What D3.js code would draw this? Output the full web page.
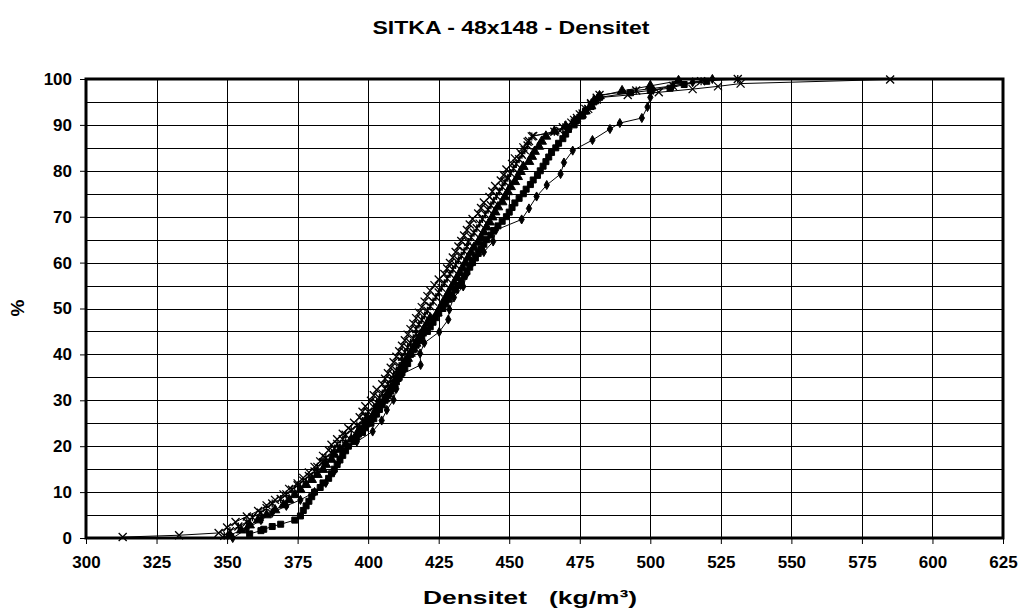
<!DOCTYPE html>
<html>
<head>
<script src="https://cdn.jsdelivr.net/npm/d3@7"></script>
<style>
  body { margin: 0; background: #fff; }
  text { font-family: "Liberation Sans", Arial, sans-serif; font-weight: bold; fill: #000; }
</style>
</head>
<body>
<svg id="chart" width="1024" height="615"></svg>
<script>
// tick values
var xTicks = [300, 325, 350, 375, 400, 425, 450, 475, 500, 525, 550, 575, 600, 625];
var yTicks = [0, 10, 20, 30, 40, 50, 60, 70, 80, 90, 100];
var yGrid = [0, 5, 10, 15, 20, 25, 30, 35, 40, 45, 50, 55, 60, 65, 70, 75, 80, 85, 90, 95, 100];

// density (kg/m3), cumulative %
var sCross = [[313,0.2],[333,0.6],[347,1.1],[350,2.3],[353,3.5],[357,4.7],[361,5.9],[364,7.1],[367,8.3],[370,9.5],[372,10.7],[375,11.9],[377,13.1],[379,14.3],[381,15.5],[383,16.7],[384,17.9],[386,19.1],[387,20.3],[389,21.5],[391,22.7],[393,23.9],[395,25.1],[397,26.3],[398,27.5],[399,28.7],[401,29.9],[402,31.1],[403,32.3],[405,33.5],[406,34.7],[407,35.9],[408,37.1],[409,38.3],[410,39.5],[411,40.7],[412,41.9],[413,43.1],[414,44.3],[415,45.5],[416,46.7],[417,47.9],[418,49.1],[419,50.3],[420,51.5],[421,52.7],[422,53.9],[423.5,55.1],[425,56.3],[427,57.5],[428,58.7],[429,59.9],[430,61.1],[431,62.3],[432,63.5],[433,64.7],[434,65.9],[435,67.1],[436,68.3],[437,69.5],[439,70.7],[440,71.9],[441,73.1],[443,74.3],[444,75.5],[445,76.7],[447,77.9],[448,79.1],[449,80.3],[451,81.5],[452,82.7],[454,83.9],[455,85.1],[456.5,86.3],[458.5,87.6],[468,88.7],[471,89.9],[473,91.1],[475,92.3],[477,93.5],[479,94.7],[481,95.9],[492,96.5],[503,97.1],[515,97.8],[524,98.4],[532,99.0],[585,99.9]];

var sStar = [[349,0.5],[351,1.5],[354,2.5],[357,3.5],[359,4.5],[362,5.5],[364,6.5],[366,7.5],[369,8.5],[371,9.5],[373,10.5],[375,11.5],[377,12.5],[379,13.5],[381,14.5],[382,15.5],[384,16.5],[385,17.5],[387,18.5],[388,19.5],[389,20.5],[391,21.5],[392,22.5],[394,23.5],[396,24.5],[398,25.5],[399,26.5],[400,27.5],[402,28.5],[403,29.5],[404,30.5],[405,31.5],[406,32.5],[407,33.5],[408,34.5],[409,35.5],[410,36.5],[411,37.5],[412,38.5],[412,39.5],[413,40.5],[414,41.5],[415,42.5],[416,43.5],[417,44.5],[417,45.5],[418,46.5],[419,47.5],[420,48.5],[421,49.5],[422,50.5],[423,51.5],[424,52.5],[425,53.5],[426,54.5],[427,55.5],[428,56.5],[429,57.5],[430,58.5],[431,59.5],[432,60.5],[433,61.5],[434,62.5],[435,63.5],[435.5,64.5],[436.5,65.5],[437.5,66.5],[438.5,67.5],[439.5,68.5],[440.5,69.5],[441.5,70.5],[442.5,71.5],[443.5,72.5],[444.5,73.5],[445.5,74.5],[446.5,75.5],[447.5,76.5],[448.5,77.5],[449.5,78.5],[450.5,79.5],[451.5,80.5],[452.5,81.5],[453.5,82.5],[454.5,83.5],[455.5,84.5],[456.5,85.5],[457,86.5],[458,87.5],[466,88.5],[469,89.5],[472,90.5],[474,91.5],[476,92.5],[478,93.5],[479,94.5],[481,95.5],[482,96.5],[495,97.5],[508,98.5],[518,99.5],[531,100]];

var sTri = [[351,0.6],[355,1.7],[358,2.8],[361,3.9],[364,5.0],[367,6.1],[370,7.2],[372,8.3],[374,9.4],[376,10.5],[378,11.6],[380,12.7],[382,13.8],[384,14.9],[385,16.0],[387,17.1],[388,18.2],[390,19.3],[392,20.4],[394,21.5],[396,22.6],[397,23.7],[399,24.8],[400,25.9],[402,27.0],[403,28.1],[404,29.2],[406,30.3],[407,31.4],[408,32.5],[409,33.6],[410,34.7],[411,35.8],[412,36.9],[413,38.0],[414,39.1],[415,40.2],[416,41.3],[417,42.4],[418,43.5],[419,44.6],[420,45.7],[421,46.8],[422,47.9],[424.5,49.0],[425.5,50.1],[426.5,51.2],[427.5,52.3],[428.5,53.4],[429.5,54.5],[430.5,55.6],[431.5,56.7],[432.5,57.8],[433.5,58.9],[434.5,60.0],[435.5,61.1],[436.5,62.2],[437.5,63.3],[439,64.4],[440,65.5],[441,66.6],[442,67.7],[443,68.8],[444,69.9],[445,71.0],[446,72.1],[447.5,73.2],[448.5,74.3],[449.5,75.4],[450.5,76.5],[452,77.6],[453,78.7],[454,79.8],[455,80.9],[457,82.0],[458,83.1],[459,84.2],[460.5,85.3],[461.5,86.4],[463,87.5],[466,88.6],[470,89.7],[473,90.8],[475,91.9],[477,93.0],[479,94.1],[480,95.2],[482,96.3],[490,97.4],[500,98.5],[510,99.6]];

var sSquare = [[358,0.9],[362,1.6],[363,1.9],[366,2.5],[369,3.0],[374,3.9],[376,4.8],[377,6.0],[378,7.0],[379,8.0],[380,9.0],[381,10.0],[383,11.0],[384,12.0],[386,13.0],[387,14.0],[388,15.0],[389,16.0],[390,17.0],[391,18.0],[392,19.0],[393,20.0],[395,21.0],[396,22.0],[398,23.0],[399,24.0],[401,25.0],[402,26.0],[403,27.0],[404,28.0],[405,29.0],[406,30.0],[407,31.0],[408,32.0],[409,33.0],[410,34.0],[411,35.0],[412,36.0],[413,37.0],[414,38.0],[414,39.0],[415,40.0],[416,41.0],[417,42.0],[418,43.0],[419,44.0],[421,45.0],[422,46.0],[423,47.0],[424,48.0],[425,49.0],[426.5,50.0],[427.5,51.0],[428.5,52.0],[429.5,53.0],[431,54.0],[432,55.0],[433,56.0],[434,57.0],[435,58.0],[436,59.0],[437,60.0],[438,61.0],[439,62.0],[440,63.0],[441,64.0],[442,65.0],[443.5,66.0],[444.5,67.0],[446,68.0],[447.5,69.0],[449,70.0],[450,71.0],[451,72.0],[452,73.0],[453.5,74.0],[455,75.0],[456,76.0],[457.5,77.0],[458.5,78.0],[460,79.0],[461,80.0],[462,81.0],[463,82.0],[464,83.0],[465,84.0],[466.5,85.0],[467.5,86.0],[469,87.0],[470,88.0],[471,89.0],[473,90.0],[474,91.0],[476,92.0],[477,93.0],[479,94.0],[480,95.0],[482,96.0],[493,97.0],[500,97.5],[507,98.0],[512,98.8],[520,99.5]];

var sDiamond = [[352,0],[357,2.0],[362,3.9],[366,5.5],[371,7.0],[376,8.3],[381,10.0],[385,12.0],[388,14.5],[390,17.0],[391,18.8],[396,21.0],[401.6,23.2],[404.8,25.6],[406.6,27.9],[409,30.1],[410,32.5],[411.3,35.5],[418.6,37.7],[418.4,40.2],[419.9,42.5],[425.2,44.9],[428.4,47.6],[428.8,49.8],[430.4,52.4],[433.7,54.8],[435.1,57.7],[437,60.0],[441,62.3],[444.3,64.6],[445.3,67.1],[454.4,69.4],[457,71.8],[459.7,74.4],[463.3,76.9],[468.2,79.3],[469.4,81.8],[472.5,84.4],[479.5,86.7],[485.7,89.1],[489.2,90.4],[497,91.5],[499,93.9],[500,96.0],[501,97.6],[508,98.5],[515,99.3],[522,100]];

var mLeft = 86, mRight = 1003, mTop = 79, mBottom = 538;

var x = d3.scaleLinear().domain([300, 625]).range([mLeft, mRight]);
var y = d3.scaleLinear().domain([0, 100]).range([mBottom, mTop]);

var svg = d3.select("#chart");

svg.append("rect").attr("width", 1024).attr("height", 615).attr("fill", "#fff");

// gridlines
svg.append("g").selectAll("line").data(yGrid).enter().append("line")
  .attr("x1", mLeft).attr("x2", mRight)
  .attr("y1", d => Math.round(y(d)) + 0.5).attr("y2", d => Math.round(y(d)) + 0.5)
  .attr("stroke", "#000").attr("stroke-width", 1);

svg.append("g").selectAll("line").data(xTicks).enter().append("line")
  .attr("x1", d => Math.round(x(d)) + 0.5).attr("x2", d => Math.round(x(d)) + 0.5)
  .attr("y1", mTop).attr("y2", mBottom)
  .attr("stroke", "#000").attr("stroke-width", 1);

// axes
var xAxis = svg.append("g").attr("transform", `translate(0,${mBottom})`)
  .call(d3.axisBottom(x).tickValues(xTicks).tickSize(6).tickPadding(12).tickFormat(d3.format("d")));
var yAxis = svg.append("g").attr("transform", `translate(${mLeft},0)`)
  .call(d3.axisLeft(y).tickValues(yTicks).tickSize(6).tickPadding(8).tickFormat(d3.format("d")));
[xAxis, yAxis].forEach(a => {
  a.select(".domain").remove();
  a.selectAll("line").attr("stroke", "#000");
  a.selectAll("text").attr("font-size", 17).attr("font-family", '"Liberation Sans", Arial, sans-serif')
    .attr("font-weight", "bold").attr("fill", "#000");
});

// frame
svg.append("rect").attr("x", mLeft).attr("y", mTop)
  .attr("width", mRight - mLeft).attr("height", mBottom - mTop)
  .attr("fill", "none").attr("stroke", "#000").attr("stroke-width", 3);

// marker shapes
var crossShape = {
  draw: function (c, s) {
    var r = Math.sqrt(s) / 2;
    c.moveTo(-r, -r); c.lineTo(r, r);
    c.moveTo(r, -r); c.lineTo(-r, r);
  }
};
var starShape = {
  draw: function (c, s) {
    var r = Math.sqrt(s) / 2;
    c.moveTo(-r, -r); c.lineTo(r, r);
    c.moveTo(r, -r); c.lineTo(-r, r);
    c.moveTo(0, -r); c.lineTo(0, r);
  }
};

var series = [
  {data: sCross, shape: crossShape, size: 64, fill: false},
  {data: sStar, shape: starShape, size: 64, fill: false},
  {data: sTri, shape: d3.symbolTriangle, size: 40, fill: true},
  {data: sSquare, shape: d3.symbolSquare, size: 36, fill: true},
  {data: sDiamond, shape: d3.symbolDiamond, size: 24, fill: true}
];

var line = d3.line().x(d => x(d[0])).y(d => y(d[1]));

series.forEach(s => {
  var g = svg.append("g");
  g.append("path").attr("d", line(s.data))
    .attr("fill", "none").attr("stroke", "#000").attr("stroke-width", 1);
  g.selectAll("path.m").data(s.data).enter().append("path").attr("class", "m")
    .attr("transform", d => `translate(${x(d[0])},${y(d[1])})`)
    .attr("d", d3.symbol().type(s.shape).size(s.size))
    .attr("fill", s.fill ? "#000" : "none")
    .attr("stroke", "#000").attr("stroke-width", s.fill ? 1 : 1.3);
});

// titles
svg.append("text").attr("x", 511).attr("y", 34).attr("text-anchor", "middle")
  .attr("font-size", 19).attr("textLength", 277).attr("lengthAdjust", "spacingAndGlyphs")
  .text("SITKA - 48x148 - Densitet");
svg.append("text").attr("x", 530).attr("y", 604).attr("text-anchor", "middle")
  .attr("font-size", 19).attr("xml:space", "preserve")
  .attr("textLength", 214).attr("lengthAdjust", "spacingAndGlyphs")
  .text("Densitet   (kg/m³)");
svg.append("text").attr("transform", "translate(24,308) rotate(-90)").attr("text-anchor", "middle")
  .attr("font-size", 19).text("%");
</script>
</body>
</html>
